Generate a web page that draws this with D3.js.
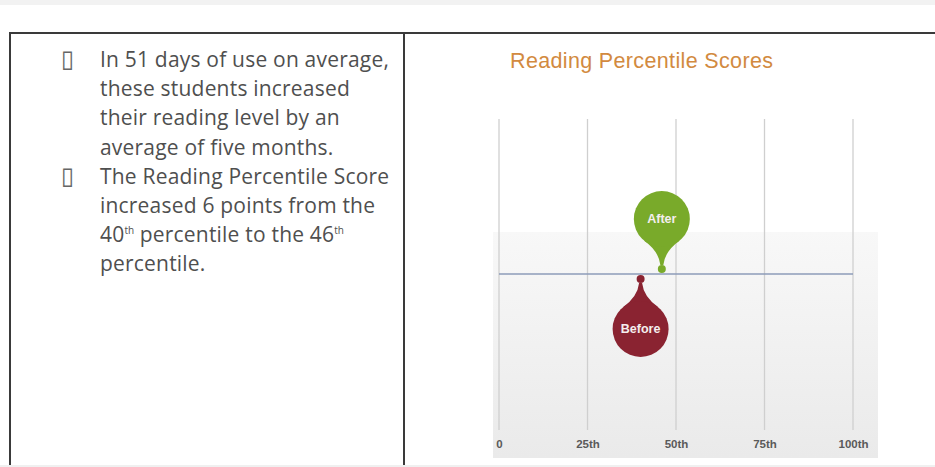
<!DOCTYPE html>
<html>
<head>
<meta charset="utf-8">
<script src="https://d3js.org/d3.v7.min.js"></script>
<style>
  body { margin: 0; background: #fff; }
  svg { display: block; }
</style>
</head>
<body>
<svg class="chart"></svg>
<script>
// data
var labels = ["Before", "After"];
var scores = [40, 46];
var markerColors = ["#8a2331", "#79aa2a"];
var tickValues = [0, 25, 50, 75, 100];
var tickLabels = ["0", "25th", "50th", "75th", "100th"];

var bullet1 = ["In 51 days of use on average,",
               "these students increased",
               "their reading level by an",
               "average of five months."];
var bullet2 = ["The Reading Percentile Score",
               "increased 6 points from the",
               ["40", "th", " percentile to the 46", "th"],
               "percentile."];

var w = 935,
    h = 467;

var chart = d3.select(".chart")
    .attr("width", w)
    .attr("height", h);

// page background bits
chart.append("rect")
    .attr("x", 0).attr("y", 0)
    .attr("width", w).attr("height", 5)
    .attr("fill", "#f2f2f2");
chart.append("rect")
    .attr("x", 0).attr("y", 465)
    .attr("width", w).attr("height", 2)
    .attr("fill", "#f0f0f0");

// table borders
var border = chart.append("g")
    .attr("stroke", "#3a3a3a")
    .attr("stroke-width", 2);
border.append("line").attr("x1", 9).attr("x2", w).attr("y1", 33).attr("y2", 33);
border.append("line").attr("x1", 10).attr("x2", 10).attr("y1", 32).attr("y2", 465);
border.append("line").attr("x1", 404).attr("x2", 404).attr("y1", 32).attr("y2", 465);

// left cell: bullet text
var textBlock = chart.append("g")
    .attr("font-family", "'Open Sans', sans-serif")
    .attr("font-size", "21px")
    .attr("letter-spacing", "0.2px")
    .attr("fill", "#4f4f4f");

var lineH = 29.2,
    firstBase = 67;

function addBullet(lines, startLine) {
  textBlock.append("text")
      .attr("x", 61)
      .attr("y", firstBase + startLine * lineH)
      .attr("font-family", "'DejaVu Sans', sans-serif")
      .attr("font-size", "24px")
      .attr("letter-spacing", "0px")
      .attr("fill", "#666")
      .text("\u25AF");
  lines.forEach(function(line, i) {
    var t = textBlock.append("text")
        .attr("x", 100)
        .attr("y", firstBase + (startLine + i) * lineH);
    if (typeof line === "string") {
      t.text(line);
    } else {
      line.forEach(function(part, j) {
        var sp = t.append("tspan").text(part);
        if (j % 2 == 1) {
          sp.attr("font-size", "10px").attr("letter-spacing", "0px").attr("dy", -8);
        } else if (j > 0) {
          sp.attr("dy", 8);
        }
      });
    }
  });
}
addBullet(bullet1, 0);
addBullet(bullet2, 4);

// right cell: chart
var x = d3.scaleLinear()
    .domain([0, 100])
    .range([499, 853]);

var yLine = 274,
    gridTop = 119,
    gridBottom = 430;

var defs = chart.append("defs");
var grad = defs.append("linearGradient")
    .attr("id", "bg")
    .attr("x1", 0).attr("x2", 0).attr("y1", 0).attr("y2", 1);
grad.append("stop").attr("offset", "0%").attr("stop-color", "#f8f8f8");
grad.append("stop").attr("offset", "100%").attr("stop-color", "#eaeaea");

chart.append("rect")
    .attr("x", 493).attr("y", 232)
    .attr("width", 385).attr("height", 226)
    .attr("fill", "url(#bg)");

chart.append("text")
    .attr("x", 510)
    .attr("y", 68)
    .attr("font-family", "'Liberation Sans', Arial, sans-serif")
    .attr("font-size", "21.5px")
    .attr("letter-spacing", "0.35px")
    .attr("fill", "#d28a40")
    .text("Reading Percentile Scores");

// grid lines
chart.append("g").selectAll("line")
    .data(tickValues)
  .enter().append("line")
    .attr("x1", d => x(d)).attr("x2", d => x(d))
    .attr("y1", gridTop).attr("y2", gridBottom)
    .attr("stroke", "#cfcfcf")
    .attr("stroke-width", 1.3);

// axis labels
var axis = chart.append("g")
    .attr("transform", "translate(0,448)")
    .call(d3.axisBottom(x)
      .tickValues(tickValues)
      .tickFormat((d, i) => tickLabels[i])
      .tickSize(0)
      .tickPadding(0));
axis.select(".domain").remove();
axis.selectAll("text")
    .attr("dy", 0)
    .attr("font-family", "'Liberation Sans', Arial, sans-serif")
    .attr("font-size", "11.5px")
    .attr("font-weight", "bold")
    .attr("fill", "#5a5a5a");

// baseline
chart.append("line")
    .attr("x1", x(0)).attr("x2", x(100))
    .attr("y1", yLine).attr("y2", yLine)
    .attr("stroke", "#8d9bb8")
    .attr("stroke-width", 1.5);

// balloon markers: Before hangs below the line, After floats above it
var r = 28;
function balloon(d, i) {
  var dir = d === "After" ? -1 : 1;
  var cx = x(scores[i]),
      cy = yLine + dir * 55,
      tipY = yLine + dir * 9,
      a = 40 * Math.PI / 180;
  var sx = r * Math.sin(a),
      sy = cy - dir * r * Math.cos(a);
  var p = d3.path();
  p.moveTo(cx - sx, sy);
  p.quadraticCurveTo(cx - 3, cy - dir * (r + 4), cx - 1.5, tipY);
  p.lineTo(cx + 1.5, tipY);
  p.quadraticCurveTo(cx + 3, cy - dir * (r + 4), cx + sx, sy);
  p.closePath();
  return {cx: cx, cy: cy, tail: p.toString(), dotY: yLine + dir * 5};
}

var markers = chart.append("g").selectAll("g")
    .data(labels)
  .enter().append("g");

markers.each(function(d, i) {
  var b = balloon(d, i),
      g = d3.select(this);
  g.append("path")
      .attr("d", b.tail)
      .attr("fill", markerColors[i]);
  g.append("circle")
      .attr("cx", b.cx).attr("cy", b.cy).attr("r", r)
      .attr("fill", markerColors[i]);
  g.append("circle")
      .attr("cx", b.cx).attr("cy", b.dotY).attr("r", 4)
      .attr("fill", markerColors[i]);
  g.append("text")
      .attr("x", b.cx).attr("y", b.cy + 4)
      .attr("text-anchor", "middle")
      .attr("font-family", "'Liberation Sans', Arial, sans-serif")
      .attr("font-size", "12.5px")
      .attr("font-weight", "bold")
      .attr("fill", "#f4eeee")
      .text(d);
});
</script>
</body>
</html>
